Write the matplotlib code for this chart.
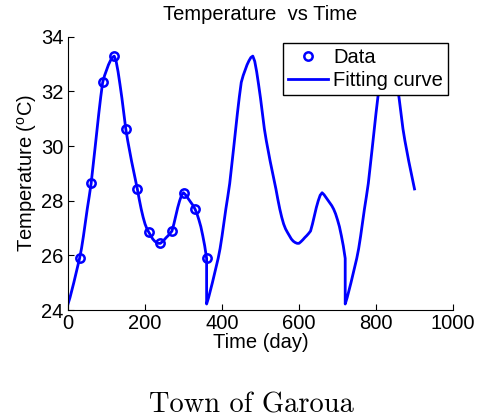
import numpy as np
import matplotlib
matplotlib.use('Agg')
import matplotlib.pyplot as plt

# measured monthly temperatures (one year)
data_days = [30, 60, 90, 120, 150, 180, 210, 240, 270, 300, 330, 360]
data_temp = [25.89, 28.63, 32.33, 33.29, 30.63, 28.43, 26.84, 26.44, 26.89, 28.29, 27.69, 25.89]

# fitting curve, one 360-day period at 5-day steps
period_days = list(range(0, 365, 5))
period_temp = [24.22, 24.45, 24.72, 25.00, 25.30, 25.60, 25.89, 26.25, 26.70, 27.20,
               27.70, 28.15, 28.63, 29.25, 29.90, 30.55, 31.20, 31.80, 32.33, 32.58,
               32.78, 32.97, 33.12, 33.24, 33.29, 33.10, 32.72, 32.25, 31.75, 31.20,
               30.63, 30.20, 29.82, 29.45, 29.10, 28.77, 28.43, 28.05, 27.70, 27.40,
               27.15, 26.97, 26.84, 26.72, 26.60, 26.52, 26.47, 26.44, 26.44, 26.50,
               26.57, 26.65, 26.72, 26.80, 26.89, 27.15, 27.45, 27.75, 28.00, 28.20,
               28.29, 28.22, 28.12, 28.02, 27.92, 27.82, 27.69, 27.52, 27.30, 27.05,
               26.72, 26.35, 25.89]
period_starts = [0, 360, 720]
last_day = 900

curve_days, curve_temp = [], []
for start in period_starts:
    for d, t in zip(period_days, period_temp):
        if start + d <= last_day:
            curve_days.append(start + d)
            curve_temp.append(t)

plt.rcParams['font.family'] = ['Liberation Sans', 'DejaVu Sans']
plt.rcParams['mathtext.fontset'] = 'custom'
plt.rcParams['mathtext.rm'] = 'Liberation Sans'

fig = plt.figure(figsize=(4.78, 4.19), dpi=100)
ax = fig.add_axes([0.1423, 0.2601, 0.8054, 0.6523])

ax.plot(data_days, data_temp, 'o', color='blue', markersize=6,
        markerfacecolor='none', markeredgewidth=1.8, label='Data')
ax.plot(curve_days, curve_temp, '-', color='blue', linewidth=2.0, label='Fitting curve')

ax.set_xlim(0, 1000)
ax.set_ylim(24, 34)
ax.set_xticks(range(0, 1001, 200))
ax.set_yticks(range(24, 35, 2))
for s in ['top', 'right']:
    ax.spines[s].set_visible(False)
for s in ['left', 'bottom']:
    ax.spines[s].set_linewidth(0.8)
ax.tick_params(direction='in', length=4, width=0.8, labelsize=14.5, pad=3)

ax.set_title('Temperature  vs Time', fontsize=14.5, pad=12)
ax.set_xlabel('Time (day)', fontsize=14.5, labelpad=0)
ax.set_ylabel(r'Temperature ($^{\mathrm{o}}$C)', fontsize=14.5, labelpad=2)

leg = ax.legend(loc='upper right', bbox_to_anchor=(0.987, 0.977), borderaxespad=0,
                fontsize=14.5, numpoints=1, fancybox=False, framealpha=1,
                edgecolor='black', handlelength=2.0, handletextpad=0.25,
                labelspacing=0.2, borderpad=0.25)
leg.get_frame().set_linewidth(1.0)

fig.text(0.527, 0.032, 'Town of Garoua', family='cmr10', fontsize=20.5,
         ha='center', va='center')

fig.savefig('out.png', dpi=100)
